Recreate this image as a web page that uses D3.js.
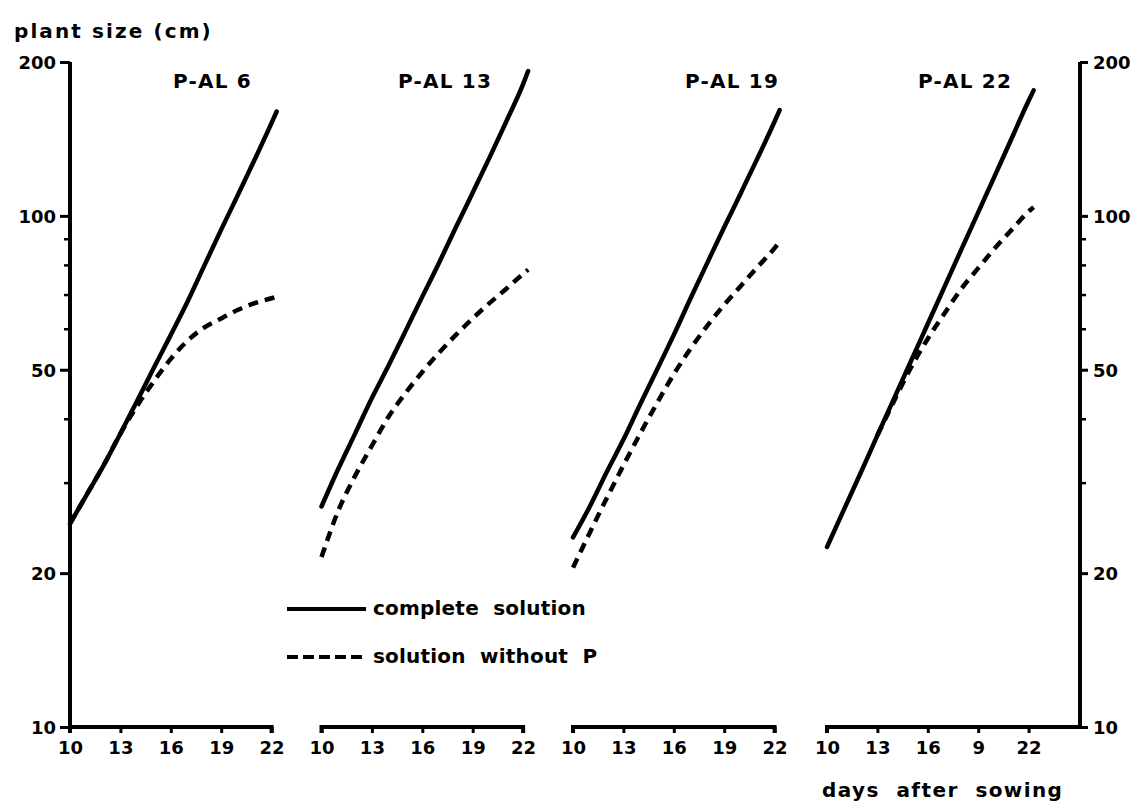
<!DOCTYPE html>
<html>
<head>
<meta charset="utf-8">
<script src="https://cdnjs.cloudflare.com/ajax/libs/d3/7.8.5/d3.min.js"></script>
<style>
  html, body { margin: 0; padding: 0; background: #fff; }
  svg text { font-family: "DejaVu Sans", sans-serif; font-weight: bold; fill: #000; white-space: pre; }
</style>
</head>
<body>
<svg id="chart" width="1144" height="810"></svg>
<script>
// Plant size (cm, log scale) against days after sowing for four P-AL levels
const panelNames = ["P-AL 6", "P-AL 13", "P-AL 19", "P-AL 22"];
const dayTicks = [10, 13, 16, 19, 22];
const dayTickLabels = ["10", "13", "16", "19", "22"];
const lastPanelDayLabels = ["10", "13", "16", "9", "22"];
const sizeTicks = [10, 20, 50, 100, 200];
const minorSizeTicks = [30, 40, 60, 70, 80, 90];
const days = [10, 11, 12, 13, 14, 15, 16, 17, 18, 19, 20, 21, 22, 22.3];

const complete6  = [25, 28.5, 32.5, 37.5, 43.5, 50.5, 58.5, 68, 80, 94, 110, 129, 152, 160];
const withoutP6  = [25, 28.5, 32.5, 37.5, 42.5, 47.5, 52.5, 57, 60.5, 63, 65.5, 67.5, 69, 69.5];
const complete13 = [27, 32, 37.5, 44, 51, 59.5, 69.5, 81, 95, 111, 130, 153, 181, 192];
const withoutP13 = [21.5, 26.5, 31, 35.5, 40.5, 45, 49.5, 54, 58.5, 63, 67.5, 72, 77, 78.5];
const complete19 = [23.5, 27, 31.5, 36.5, 42.8, 50, 58.5, 69, 81, 95, 111, 130, 153, 161];
const withoutP19 = [20.5, 24, 28, 32.5, 37.5, 43, 49, 55, 61, 67, 73, 79.5, 86.5, 89];
const complete22 = [22.5, 26.6, 31.4, 37.2, 44, 52, 61.5, 72.7, 86, 101.6, 120, 142, 168, 176];
const withoutP22 = [null, null, null, 37.2, 43.5, 50.5, 57.5, 64.5, 72, 79, 86.5, 94, 102, 104];

const completeSeries = [complete6, complete13, complete19, complete22];
const withoutPSeries = [withoutP6, withoutP13, withoutP19, withoutP22];

const legendLabels = ["complete  solution", "solution  without  P"];

// layout
const yTop = 62, yBottom = 727;
const panelStarts = [70, 321.5, 573, 827];
const pxPerDay = 16.8;
const rightAxisX = 1080;

const svg = d3.select("#chart");
const y = d3.scaleLog().domain([10, 200]).range([yBottom, yTop]);

const STROKE = 4;

// y-axis title
svg.append("text")
  .attr("x", 14).attr("y", 38)
  .attr("font-size", 20).attr("letter-spacing", 2.1)
  .text("plant size (cm)");

// left axis
const leftAxis = d3.axisLeft(y).tickValues(sizeTicks).tickFormat(d3.format("d")).tickSize(10).tickPadding(4);
const gLeft = svg.append("g").attr("transform", `translate(${panelStarts[0]},0)`).call(leftAxis);
gLeft.selectAll("text").attr("font-size", 18).attr("dy", "0.35em");
gLeft.selectAll("line").attr("stroke-width", 3);
gLeft.select(".domain").attr("d", `M0,${yTop}V${yBottom}`).attr("stroke-width", STROKE);
gLeft.selectAll(".minor").data(minorSizeTicks).enter().append("line")
  .attr("x1", -6).attr("x2", 0).attr("y1", d => y(d)).attr("y2", d => y(d))
  .attr("stroke", "#000").attr("stroke-width", 2.5);

// right axis
const rightAxis = d3.axisRight(y).tickValues(sizeTicks).tickFormat(d3.format("d")).tickSize(8).tickPadding(5);
const gRight = svg.append("g").attr("transform", `translate(${rightAxisX},0)`).call(rightAxis);
gRight.selectAll("text").attr("font-size", 18).attr("dy", "0.35em");
gRight.selectAll("line").attr("stroke-width", 3);
gRight.select(".domain").attr("d", `M0,${yBottom}V${yTop}`).attr("stroke-width", STROKE);
gRight.selectAll(".minor").data(minorSizeTicks).enter().append("line")
  .attr("x1", 0).attr("x2", 6).attr("y1", d => y(d)).attr("y2", d => y(d))
  .attr("stroke", "#000").attr("stroke-width", 2.5);

// panels
panelNames.forEach((name, i) => {
  const x0 = panelStarts[i];
  const x = d3.scaleLinear().domain([10, 22]).range([x0, x0 + 12 * pxPerDay]);
  const g = svg.append("g");

  // bottom axis
  const labels = i === 3 ? lastPanelDayLabels : dayTickLabels;
  const bottomAxis = d3.axisBottom(x).tickValues(dayTicks)
    .tickFormat((d, k) => labels[k]).tickSize(6).tickPadding(8);
  const gb = g.append("g").attr("transform", `translate(0,${yBottom})`).call(bottomAxis);
  gb.selectAll("text").attr("font-size", 18);
  gb.selectAll("line").attr("stroke-width", 3);
  const xEnd = i === 3 ? rightAxisX : x(22);
  gb.select(".domain").attr("d", `M${x(10)},6V0H${xEnd}${i === 3 ? "" : "V6"}`)
    .attr("stroke-width", STROKE).attr("fill", "none");

  // panel label
  g.append("text")
    .attr("x", [252, 492, 779, 1012][i]).attr("y", 88)
    .attr("text-anchor", "end")
    .attr("font-size", 20).attr("letter-spacing", 1.2)
    .text(name);

  const line = d3.line()
    .defined(d => d[1] != null)
    .x(d => x(d[0])).y(d => y(d[1]))
    .curve(d3.curveMonotoneX);

  g.append("path")
    .datum(days.map((d, k) => [d, completeSeries[i][k]]))
    .attr("d", line).attr("fill", "none").attr("stroke", "#000")
    .attr("stroke-width", 4.5).attr("stroke-linecap", "round").attr("stroke-linejoin", "round");

  g.append("path")
    .datum(days.map((d, k) => [d, withoutPSeries[i][k]]))
    .attr("d", line).attr("fill", "none").attr("stroke", "#000")
    .attr("stroke-width", 4.5).attr("stroke-dasharray", "10,7");
});

// x-axis title
svg.append("text")
  .attr("x", 822).attr("y", 797)
  .attr("font-size", 20).attr("letter-spacing", 1.4)
  .text("days  after  sowing");

// legend
const legendY = [609, 657];
legendY.forEach((ly, k) => {
  svg.append("line")
    .attr("x1", 287).attr("x2", 366).attr("y1", ly).attr("y2", ly)
    .attr("stroke", "#000").attr("stroke-width", 4)
    .attr("stroke-dasharray", k === 1 ? "11,5" : null);
  svg.append("text")
    .attr("x", 373).attr("y", ly + 6)
    .attr("font-size", 20).attr("letter-spacing", 0.2)
    .text(legendLabels[k]);
});
</script>
</body>
</html>
